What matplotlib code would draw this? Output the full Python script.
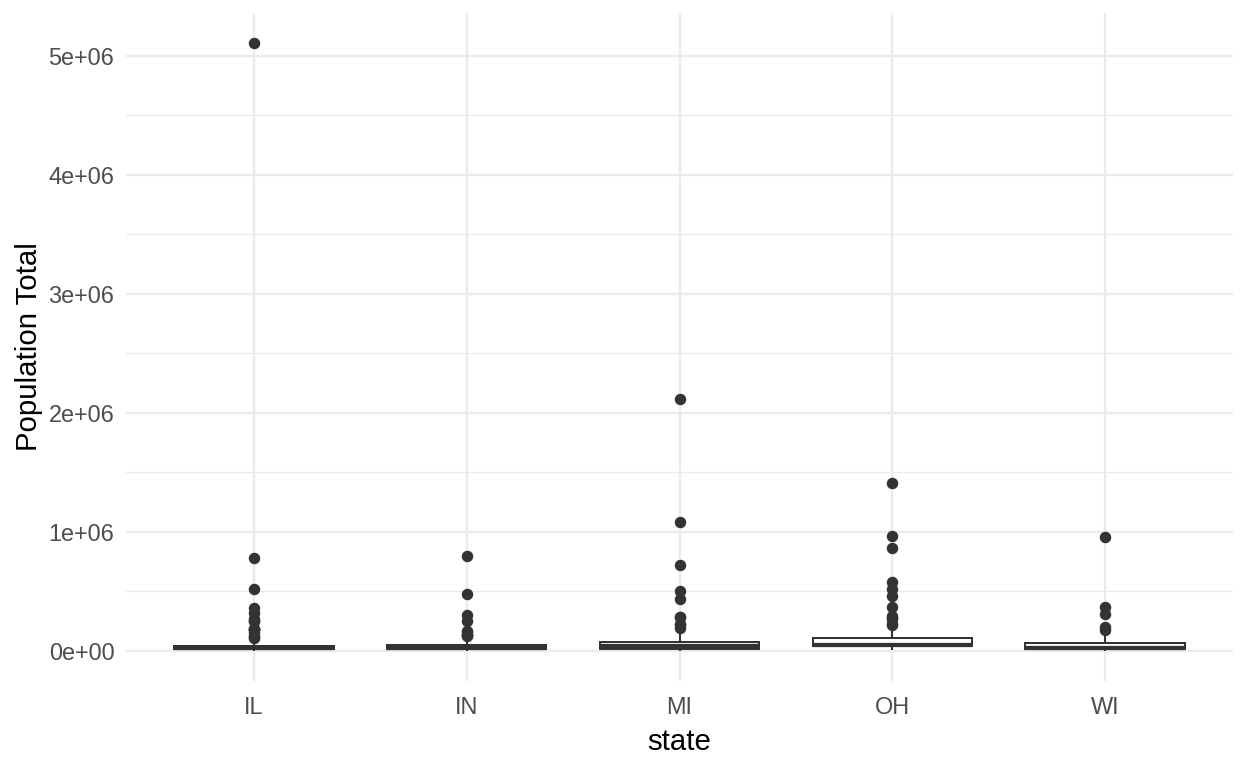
import matplotlib
matplotlib.use("Agg")
import matplotlib.pyplot as plt
from matplotlib.ticker import MultipleLocator, FuncFormatter

plt.rcParams['font.family'] = ['Liberation Sans', 'DejaVu Sans']

# box stats (population per county)
states = ["IL", "IN", "MI", "OH", "WI"]
q1 = [11000, 16000, 15000, 37000, 14000]
med = [23000, 26000, 37000, 50000, 26000]
q3 = [43000, 51000, 76000, 103000, 60000]
whis_lo = [4373, 5315, 1701, 11098, 3890]
whis_hi = [96255, 106107, 158983, 210000, 140510]
fliers = [
    [5105067, 781666, 516418, 357313, 317471, 262852, 252913, 249238,
     183241, 182827, 178386, 173025, 148723, 123692, 117206, 106913],
    [797159, 475594, 300836, 247052, 165058, 156198, 130669, 130598,
     128932, 119659],
    [2111687, 1083592, 717400, 500631, 430459, 282937, 281912, 223411,
     211946, 187768],
    [1412140, 961437, 866228, 573809, 514990, 462361, 367585, 291479,
     271126, 264806, 227813, 215499],
    [959275, 367085, 304715, 194594, 175034],
]

stats = []
for i in range(len(states)):
    stats.append(dict(label=states[i], q1=q1[i], med=med[i], q3=q3[i],
                      whislo=whis_lo[i], whishi=whis_hi[i], fliers=fliers[i]))

fig = plt.figure(figsize=(6.5, 4), dpi=192)
ax = fig.add_axes([126/1248, 87/768, (1233-126)/1248, (681-13)/768])

dark = "#333333"
ax.bxp(stats, positions=range(1, 6), widths=0.75, patch_artist=True,
       showcaps=False,
       boxprops=dict(facecolor="white", edgecolor=dark, linewidth=0.75),
       medianprops=dict(color=dark, linewidth=1.6),
       whiskerprops=dict(color=dark, linewidth=0.75),
       flierprops=dict(marker="o", markerfacecolor=dark, markeredgecolor=dark,
                       markersize=3.3, linestyle="none"))

ax.set_xlim(0.4, 5.6)
ax.set_ylim(-255253, 5360320)
ax.yaxis.set_major_locator(MultipleLocator(1e6))
ax.yaxis.set_minor_locator(MultipleLocator(5e5))
ax.yaxis.set_major_formatter(FuncFormatter(lambda v, p: "%de+%02d" % (int(round(v / 1e6)), 6) if v != 0 else "0e+00"))

ax.grid(True, which="major", color="#EBEBEB", linewidth=0.9)
ax.grid(True, which="minor", axis="y", color="#EBEBEB", linewidth=0.45)
ax.set_axisbelow(True)
for s in ax.spines.values():
    s.set_visible(False)
ax.tick_params(which="both", length=0)
ax.tick_params(axis="both", labelsize=8.8, labelcolor="#4D4D4D")
ax.tick_params(axis="x", pad=5.5)
ax.tick_params(axis="y", pad=4.4)

ax.set_xlabel("state", fontsize=11, color="black", labelpad=3.5)
ax.set_ylabel("Population Total", fontsize=11, color="black", labelpad=2)

fig.savefig("out.png", dpi=192)
